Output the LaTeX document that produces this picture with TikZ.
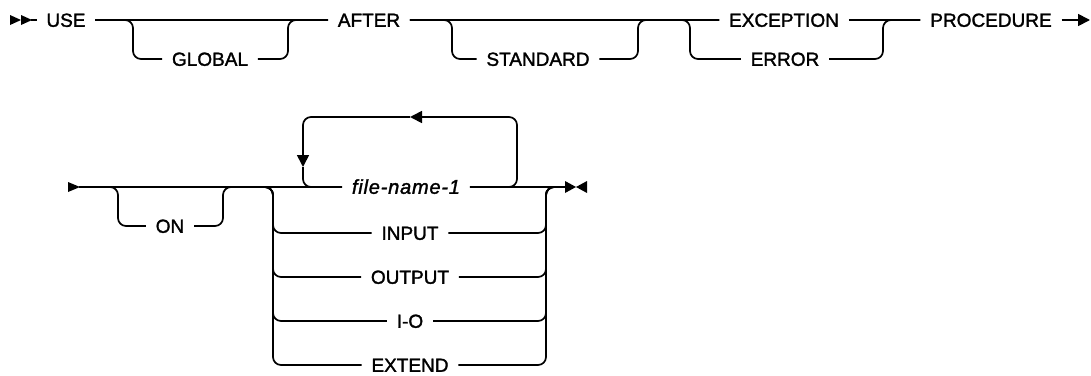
\documentclass[tikz,border=0pt]{standalone}
\usepackage{fontspec}
\setmainfont{Liberation Sans}[FakeBold=1.6]
\usetikzlibrary{arrows.meta}

\begin{document}
\begin{tikzpicture}[x=1pt, y=-1pt, line width=1.7pt,
  rc/.style={rounded corners=8pt},
  kw/.style={inner xsep=9pt, inner ysep=0pt, text height=13.6pt, text depth=0pt,
             font=\fontsize{19}{19}\selectfont},
  var/.style={kw, font=\fontsize{20}{20}\selectfont\itshape\addfontfeature{LetterSpace=4}},
  tip/.style={-{Triangle[length=12pt, width=12pt]}}]

\useasboundingbox (0,0) rectangle (1091,375);

% ============================================================ first line
% Start of the statement: two heads.
\fill (10,15) -- (21,20) -- (10,25) -- cycle;
\fill (21,15) -- (32,20) -- (21,25) -- cycle;
\coordinate (start) at (31,20);

\node[kw] (use)       at (66,20)  {USE};
\node[kw] (global)    at (210,59) {GLOBAL};
\node[kw] (after)     at (369,20) {AFTER};
\node[kw] (standard)  at (538,59) {STANDARD};
\node[kw] (exception) at (784,20) {EXCEPTION};
\node[kw] (error)     at (785,59) {ERROR};
\node[kw] (procedure) at (991,20) {PROCEDURE};

% branch points of the optional words and of the choice
\coordinate (g1) at (133,20);  \coordinate (g2) at (288,20);
\coordinate (s1) at (452,20);  \coordinate (s2) at (638,20);
\coordinate (e1) at (690,20);  \coordinate (e2) at (883,20);
\coordinate (cont) at (1090,20);

\draw (start) -- (use);
\draw (use) -- (after);
\draw[rc] (use.east) -- (g1) |- (global.west);
\draw[rc] (global.east) -| (g2) -- (after.west);

\draw (after) -- (exception);
\draw[rc] (after.east) -- (s1) |- (standard.west);
\draw[rc] (standard.east) -| (s2) -- (exception.west);
\draw[rc] (after.east) -- (e1) |- (error.west);
\draw[rc] (error.east) -| (e2) -- (procedure.west);
\draw (exception) -- (procedure);
\draw[tip] (procedure) -- (cont);

% =========================================================== second line
\fill (68,182) -- (80,187) -- (68,192) -- cycle;
\coordinate (resume) at (79,187);

\node[kw]  (on)     at (170,226) {ON};
\node[var] (fname)  at (406,187) {file-name-1};
\node[kw]  (input)  at (410,233) {INPUT};
\node[kw]  (output) at (410,277) {OUTPUT};
\node[kw]  (io)     at (410,321) {I-O};
\node[kw]  (extend) at (410,365) {EXTEND};

\coordinate (o1) at (118,187);  \coordinate (o2) at (223,187);
\coordinate (k1) at (273,187);  \coordinate (k2) at (546,187);
\coordinate (fin) at (565,187);

\draw (resume) -- (fname);
\draw[rc] (resume) -- (o1) |- (on.west);
\draw[rc] (on.east) -| (o2) -- (k1);
\foreach \n in {input,output,io,extend} {
  \draw[rc] (o2) -- (k1) |- (\n.west);
  \draw[rc] (\n.east) -| (k2) -- (fin);
}
\draw (fname.east) -- (fin);

% repeat loop over file-name-1
\coordinate (lr) at (517,117);
\coordinate (lm) at (410,117);
\coordinate (ll) at (303,117);
\coordinate (ld) at (303,167);
\draw[rc, tip] (fname.east) -| (lr) -- (lm);
\draw[rc, tip] (lm) -- (ll) -- (ld);
\draw[rc] (ld) |- (fname.west);

% end of the statement
\fill (565,181) -- (576,187) -- (565,193) -- cycle;
\fill (587,181) -- (576,187) -- (587,193) -- cycle;

\end{tikzpicture}
\end{document}
